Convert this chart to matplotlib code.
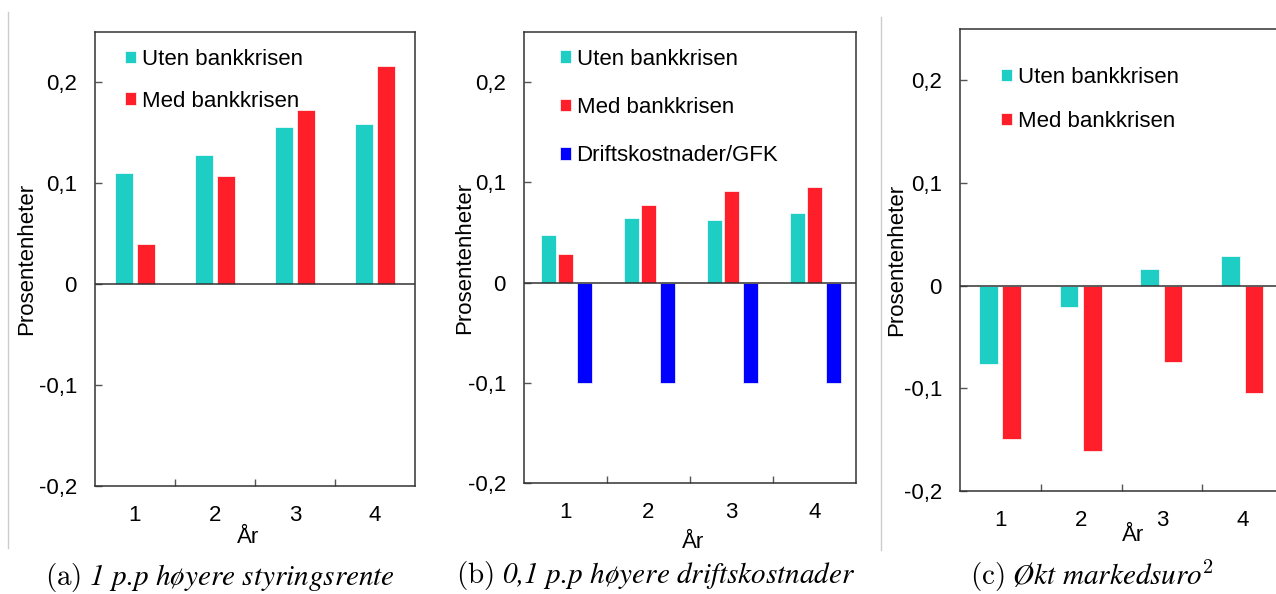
import numpy as np
import matplotlib
matplotlib.use('Agg')
import matplotlib.pyplot as plt
from matplotlib.lines import Line2D

plt.rcParams['font.family'] = ['Liberation Sans', 'DejaVu Sans']
plt.rcParams['mathtext.fontset'] = 'cm'

# data
years = [1, 2, 3, 4]
a_uten = [0.110, 0.128, 0.156, 0.159]
a_med = [0.040, 0.107, 0.173, 0.216]
b_uten = [0.047, 0.064, 0.062, 0.069]
b_med = [0.028, 0.077, 0.091, 0.095]
b_drift = [-0.100, -0.100, -0.100, -0.100]
c_uten = [-0.076, -0.021, 0.016, 0.029]
c_med = [-0.149, -0.161, -0.074, -0.105]

yticks = [-0.2, -0.1, 0, 0.1, 0.2]
ytick_labels = ['-0,2', '-0,1', '0', '0,1', '0,2']

teal = '#1ecec4'
red = '#ff1f2a'
blue = '#0000ff'
fs = 16

fig = plt.figure(figsize=(12.76, 5.94), dpi=100)
W, H = 1276, 594


def px_axes(l, r, t, b):
    return fig.add_axes([l / W, 1 - b / H, (r - l) / W, (b - t) / H])


def style(ax):
    ax.set_xlim(0.5, 4.5)
    ax.set_ylim(-0.2, 0.25)
    ax.set_yticks(yticks)
    ax.set_yticklabels(ytick_labels)
    ax.set_xticks(years)
    ax.set_xticklabels([str(y) for y in years])
    ax.set_xticks([1.5, 2.5, 3.5], minor=True)
    ax.tick_params(axis='x', which='major', length=0, pad=14, labelsize=fs)
    ax.tick_params(axis='x', which='minor', direction='in', length=5,
                   width=1, color='#555555')
    ax.tick_params(axis='y', direction='in', length=5, width=1,
                   color='#555555', pad=13, labelsize=fs)
    for s in ax.spines.values():
        s.set_color('#333333')
        s.set_linewidth(1.1)
    ax.axhline(0, color='#333333', lw=1.1, zorder=3)


def add_legend(ax, x, y, spacing):
    ax.legend(loc='upper left', bbox_to_anchor=(x, y), frameon=False,
              fontsize=fs, handlelength=0.5, handleheight=0.5,
              handletextpad=0.25, labelspacing=spacing, borderpad=0,
              borderaxespad=0)


# (a) styringsrente
ax1 = px_axes(95, 415, 32, 486)
x = np.array(years)
ax1.bar(x - 0.14, a_uten, 0.225, color=teal, edgecolor='white', lw=0.5,
        label='Uten bankkrisen')
ax1.bar(x + 0.14, a_med, 0.225, color=red, edgecolor='white', lw=0.5,
        label='Med bankkrisen')
style(ax1)
add_legend(ax1, 0.094, 0.963, 0.94)
ax1.set_xlabel('År', fontsize=fs)
ax1.xaxis.set_label_coords(0.478, -0.090)
ax1.set_ylabel('Prosentenheter', fontsize=fs, va='center')
ax1.yaxis.set_label_coords(-0.214, 0.5)

# (b) driftskostnader
ax2 = px_axes(524, 856, 32, 483)
ax2.bar(x - 0.21, b_uten, 0.18, color=teal, edgecolor='white', lw=0.5,
        label='Uten bankkrisen')
ax2.bar(x + 0.005, b_med, 0.18, color=red, edgecolor='white', lw=0.5,
        label='Med bankkrisen')
ax2.bar(x + 0.225, b_drift, 0.18, color=blue, edgecolor='white', lw=0.5,
        label='Driftskostnader/GFK')
style(ax2)
add_legend(ax2, 0.108, 0.963, 1.23)
ax2.set_xlabel('År', fontsize=fs)
ax2.xaxis.set_label_coords(0.51, -0.109)
ax2.set_ylabel('Prosentenheter', fontsize=fs, va='center')
ax2.yaxis.set_label_coords(-0.178, 0.5)

# (c) markedsuro
ax3 = px_axes(960, 1283, 29, 491)
ax3.bar(x - 0.15, c_uten, 0.23, color=teal, edgecolor='white', lw=0.5,
        label='Uten bankkrisen')
ax3.bar(x + 0.14, c_med, 0.23, color=red, edgecolor='white', lw=0.5,
        label='Med bankkrisen')
style(ax3)
add_legend(ax3, 0.127, 0.918, 1.03)
ax3.set_xlabel('År', fontsize=fs)
ax3.xaxis.set_label_coords(0.536, -0.074)
ax3.set_ylabel('Prosentenheter', fontsize=fs, va='center')
ax3.yaxis.set_label_coords(-0.195, 0.5)

# captions under each panel
cap = dict(fontsize=21, ha='center', va='center', family='STIXGeneral',
           style='italic')
fig.text(220 / W, 1 - 577 / H,
         r'$\mathrm{(a)}$ 1 p.p høyere styringsrente', **cap)
fig.text(656 / W, 1 - 576 / H,
         r'$\mathrm{(b)}$ 0,1 p.p høyere driftskostnader', **cap)
fig.text(1092 / W, 1 - 576 / H,
         r'$\mathrm{(c)}$ Økt markedsuro$^{2}$', **cap)

# thin separators between the sub-figures
fig.add_artist(Line2D([8 / W, 8 / W], [1 - 12 / H, 1 - 548 / H],
                      color='#cccccc', lw=1))
fig.add_artist(Line2D([881 / W, 881 / W], [1 - 17 / H, 1 - 550 / H],
                      color='#cccccc', lw=1))

fig.savefig('out.png', dpi=100)
